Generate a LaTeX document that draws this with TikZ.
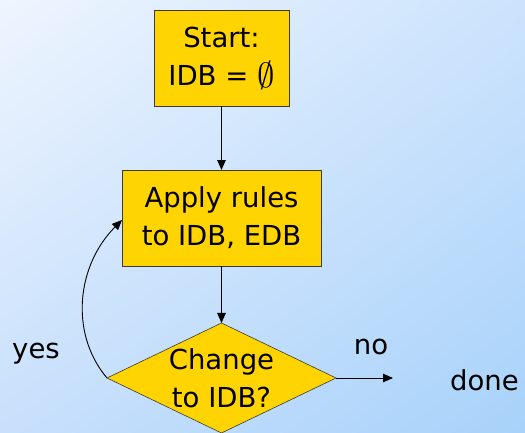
\documentclass[tikz,border=0pt]{standalone}
\usepackage{amssymb}
\usepackage{graphicx}
\usepackage{fontspec}
\setmainfont{DejaVu Sans}
\usepackage{xcolor}
\usetikzlibrary{arrows.meta,shapes.geometric,shadings,positioning}

\definecolor{boxgold}{HTML}{FFD400}
\definecolor{boxline}{HTML}{3A3A3A}
\definecolor{bgtl}{HTML}{EEF5FE}
\definecolor{bgtr}{HTML}{CCE3FD}
\definecolor{bgbl}{HTML}{C8E0FC}
\definecolor{bgbr}{HTML}{A8D2FA}

\begin{document}
\begin{tikzpicture}[x=1pt,y=1pt,>={Triangle[length=10pt,width=8.5pt]},semithick,
  font=\fontsize{27.5}{38}\selectfont]
  \tikzstyle{stepbox}=[draw=boxline,fill=boxgold,rectangle,align=center,
    minimum height=96pt,inner sep=0pt,outer sep=0pt]
  \tikzstyle{decision}=[draw=boxline,fill=boxgold,diamond,
    minimum width=229pt,minimum height=110pt,inner sep=0pt,outer sep=0pt]
  \tikzstyle{flow}=[->,black,line width=0.9pt]
  % background
  \useasboundingbox (0,0) rectangle (525,432);
  \shade[upper left=bgtl,upper right=bgtr,lower left=bgbl,lower right=bgbr]
    (0,0) rectangle (525,432);
  % boxes
  \node[stepbox,minimum width=135pt] (start) at (221.5,374)
    {Start:\\IDB = \raisebox{-2pt}{\scalebox{1.4}{$\emptyset$}}};
  \node[stepbox,minimum width=199pt] (apply) [below=64pt of start] {Apply rules\\to IDB, EDB};
  \node[decision] (cond) [below=57pt of apply] {};
  \node[align=center,inner sep=0pt] (condtext) at (cond) {Change\\to IDB?};
  \coordinate[right=57pt of cond.east] (out);
  % labels
  \node[anchor=base] (yes) at (36,74) {yes};
  \node[anchor=base] (no) at (371,78) {no};
  \node[anchor=base] (done) at (484.5,42) {done};
  % arrows
  \draw[flow] (start) -- (apply);
  \draw[flow] (apply) -- (cond);
  \draw[flow] (cond.east) -- (out);
  \draw[flow] (cond.west) .. controls +(-38,45) and +(-45,-45) .. ([yshift=-2pt]apply.west);
\end{tikzpicture}
\end{document}
